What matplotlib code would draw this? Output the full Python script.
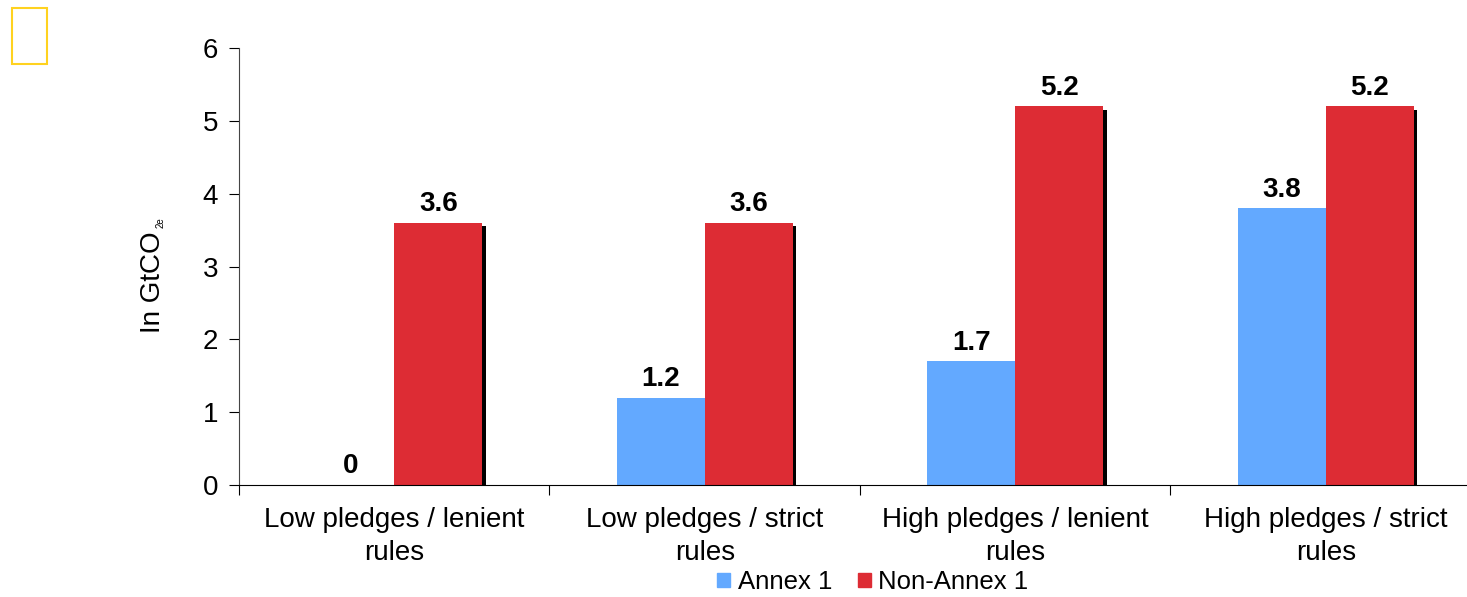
import matplotlib.pyplot as plt
import matplotlib.patheffects as pe
from matplotlib.patches import Rectangle, Patch
import numpy as np

plt.rcParams['font.family'] = ['Liberation Sans', 'DejaVu Sans']

categories = ["Low pledges / lenient\nrules", "Low pledges / strict\nrules",
              "High pledges / lenient\nrules", "High pledges / strict\nrules"]
annex1 = [0, 1.2, 1.7, 3.8]
non_annex1 = [3.6, 3.6, 5.2, 5.2]
colours = ["#63A9FF", "#DD2C34"]

fig = plt.figure(figsize=(14.67, 5.97), dpi=100)
ax = fig.add_axes([0.1629, 0.1876, 0.8466, 0.732])

x = np.arange(len(categories)) + 0.5
w = 0.284
shadow = [pe.SimplePatchShadow(offset=(2.5, -2.5), shadow_rgbFace='black', alpha=1), pe.Normal()]

b1 = ax.bar(x - w / 2, annex1, w, color=colours[0], path_effects=shadow)
b2 = ax.bar(x + w / 2, non_annex1, w, color=colours[1], path_effects=shadow)

for bars, vals in [(b1, annex1), (b2, non_annex1)]:
    for b, v in zip(bars, vals):
        ax.annotate("%g" % v, (b.get_x() + b.get_width() / 2, v), xytext=(0, 4),
                    textcoords="offset points", ha="center", va="bottom",
                    fontsize=20, fontweight="bold")

ax.set_xlim(0, 4)
ax.set_ylim(0, 6)
ax.set_yticks(range(7))
ax.set_xticks(range(5))
ax.set_xticklabels([])
ax.set_xticks(x, minor=True)
ax.set_xticklabels(categories, minor=True, fontsize=20, linespacing=1.35)
ax.tick_params(axis='x', which='minor', length=0, pad=16)
ax.tick_params(axis='x', which='major', length=7, width=0.8)
ax.tick_params(axis='y', length=7, width=0.8, labelsize=20, pad=8)
for s in ['top', 'right']:
    ax.spines[s].set_visible(False)
ax.spines['left'].set_color('#444444')

# y label with a small "2e" subscript
fig.text(153 / 1467, 1 - 282 / 597, "In GtCO", rotation=90, ha="center", va="center", fontsize=20)
fig.text(161 / 1467, 1 - 223 / 597, "2e", rotation=90, ha="center", va="center", fontsize=7)

handles = [Patch(color=c) for c in colours]
fig.legend(handles, ["Annex 1", "Non-Annex 1"], loc="center",
           bbox_to_anchor=(0.595, 0.025), ncol=2, frameon=False,
           fontsize=18.5, handlelength=0.5, handleheight=0.5, handletextpad=0.3,
           columnspacing=1.0)

fig.patches.append(Rectangle((12 / 1467, 1 - 64 / 597), 35 / 1467, 56 / 597,
                             transform=fig.transFigure, fill=False,
                             edgecolor="#FFD21F", lw=1.5))

fig.savefig("out.png")
